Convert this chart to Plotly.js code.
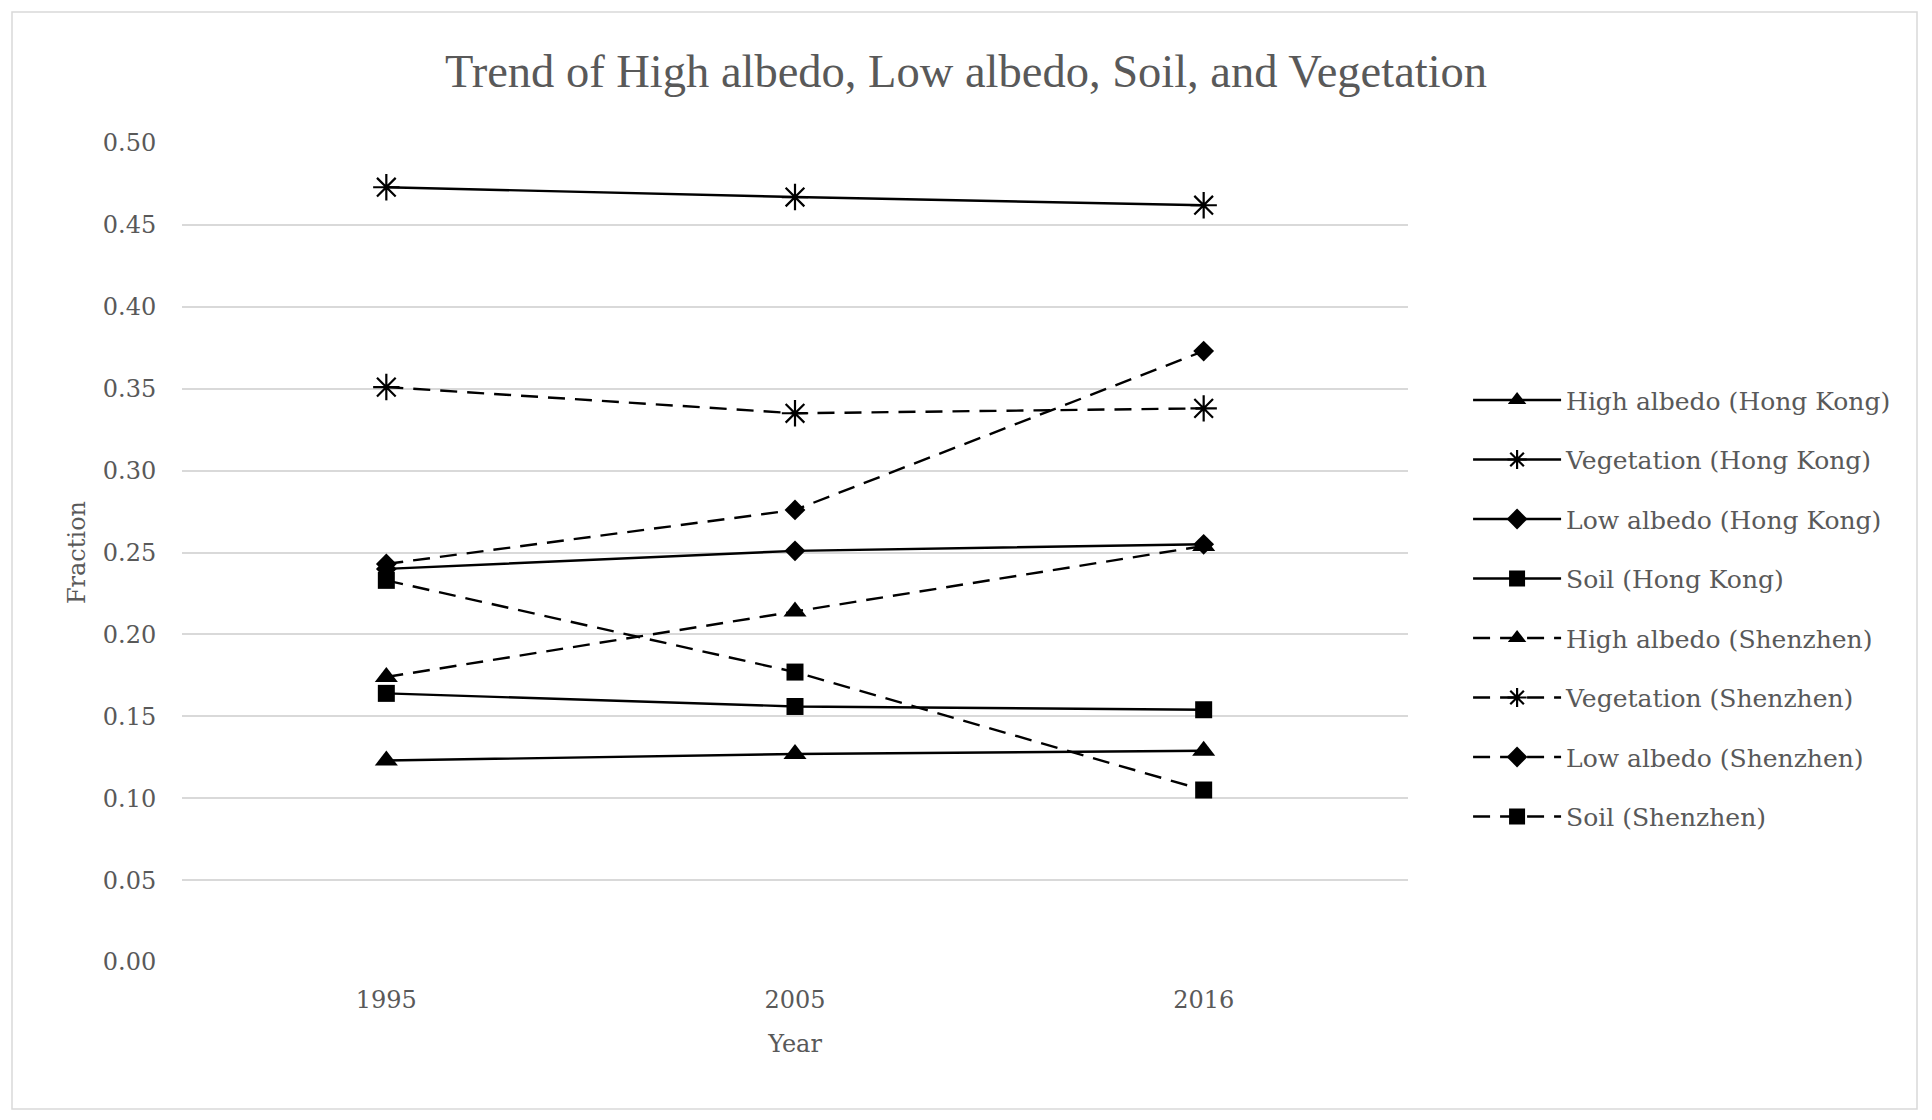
<!DOCTYPE html>
<html>
<head>
<meta charset="utf-8">
<script src="https://cdn.plot.ly/plotly-3.0.1.min.js"></script>
<style>
  html, body { margin: 0; padding: 0; background: #ffffff; }
  #chart { width: 1932px; height: 1120px; }
</style>
</head>
<body>
<div id="chart"></div>
<script>
// Data
var years = ['1995', '2005', '2016'];
var hkHigh = [0.123, 0.127, 0.129];
var hkVeg  = [0.473, 0.467, 0.462];
var hkLow  = [0.240, 0.251, 0.255];
var hkSoil = [0.164, 0.156, 0.154];
var szHigh = [0.174, 0.214, 0.254];
var szVeg  = [0.351, 0.335, 0.338];
var szLow  = [0.243, 0.276, 0.373];
var szSoil = [0.233, 0.177, 0.105];
var seriesNames = [
  'High albedo (Hong Kong)', 'Vegetation (Hong Kong)', 'Low albedo (Hong Kong)', 'Soil (Hong Kong)',
  'High albedo (Shenzhen)', 'Vegetation (Shenzhen)', 'Low albedo (Shenzhen)', 'Soil (Shenzhen)'
];
var seriesValues = [hkHigh, hkVeg, hkLow, hkSoil, szHigh, szVeg, szLow, szSoil];

var symbols = ['triangle-up', 'asterisk-open', 'diamond', 'square'];
var sizes = [20, 22, 16, 17];
var traces = seriesValues.map(function (vals, i) {
  var k = i % 4;
  var dashed = i >= 4;
  return {
    type: 'scatter',
    mode: 'lines+markers',
    x: years,
    y: vals,
    name: seriesNames[i],
    legendgroup: 'g' + i,
    line: { color: '#000000', width: 2.4, dash: dashed ? '17px,10px' : 'solid' },
    marker: {
      symbol: symbols[k],
      size: sizes[k],
      color: '#000000',
      line: { color: '#000000', width: k === 1 ? 2.2 : 0 }
    }
  };
});

var layout = {
  width: 1932,
  height: 1120,
  paper_bgcolor: '#ffffff',
  plot_bgcolor: '#ffffff',
  margin: { l: 182, r: 524, t: 143, b: 158 },
  title: {
    text: 'Trend of High albedo, Low albedo, Soil, and Vegetation',
    font: { family: 'Liberation Serif, serif', size: 46.5, color: '#595959' },
    x: 0.5, xanchor: 'center', y: 1 - 71 / 1120, yanchor: 'middle', yref: 'container'
  },
  xaxis: {
    type: 'category',
    range: [-0.5, 2.5],
    showgrid: false,
    zeroline: false,
    showline: false,
    ticks: 'outside', ticklen: 16, tickcolor: 'rgba(0,0,0,0)',
    tickfont: { family: 'DejaVu Serif, serif', size: 24, color: '#595959' },
    title: { text: 'Year', font: { family: 'DejaVu Serif, serif', size: 24, color: '#595959' }, standoff: 22 },
    automargin: false
  },
  yaxis: {
    range: [0, 0.5],
    dtick: 0.05,
    tick0: 0,
    tickformat: '.2f',
    showgrid: true,
    gridcolor: '#d9d9d9',
    gridwidth: 1.5,
    zeroline: false,
    showline: false,
    ticks: 'outside', ticklen: 20, tickcolor: 'rgba(0,0,0,0)',
    tickfont: { family: 'DejaVu Serif, serif', size: 24, color: '#595959' },
    title: { text: 'Fraction', font: { family: 'DejaVu Serif, serif', size: 24, color: '#595959' }, standoff: 10 },
    automargin: false
  },
  showlegend: true,
  legend: {
    x: 1.049, xanchor: 'left',
    y: 0.714, yanchor: 'top',
    traceorder: 'grouped',
    tracegroupgap: 24,
    itemwidth: 88,
    bgcolor: 'rgba(0,0,0,0)',
    font: { family: 'DejaVu Serif, serif', size: 25, color: '#595959' }
  },
  shapes: [{
    type: 'rect', xref: 'paper', yref: 'paper',
    x0: (12 - 182) / 1226, x1: (1917 - 182) / 1226,
    y0: (962 - 1109) / 819, y1: (962 - 12) / 819,
    line: { color: '#d9d9d9', width: 1.5 },
    fillcolor: 'rgba(0,0,0,0)',
    layer: 'below'
  }]
};

Plotly.newPlot('chart', traces, layout, { displayModeBar: false, responsive: false });
</script>
</body>
</html>
